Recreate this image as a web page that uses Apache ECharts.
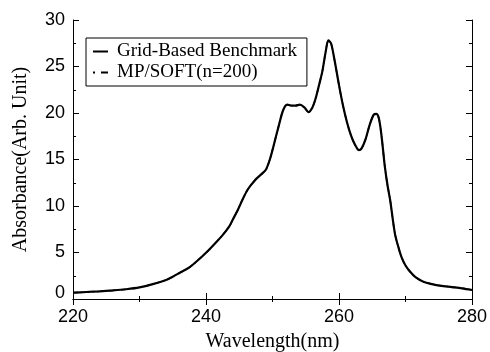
<!DOCTYPE html>
<html>
<head>
    <meta charset="utf-8">
    <title>Absorbance</title>
    <script src="https://cdn.jsdelivr.net/npm/echarts@6/dist/echarts.min.js"></script>
</head>
<body style="margin:0;background:#fff">
    <div id="main" style="width:490px;height:352px;"></div>
    <script type="text/javascript">
        // wavelength (nm) and absorbance
        var wavelength = [220, 222, 224, 226, 228, 230, 232, 234, 235, 236, 237.5, 239, 240, 241, 242.5, 243.5, 244, 244.8,
            245.5, 246.3, 247.4, 248.3, 249, 249.6, 250.1, 251, 251.6, 252.2, 252.8, 253.5, 254.1, 254.8, 255.4, 256,
            256.5, 257, 257.5, 258, 258.4, 258.8, 259.3, 260, 260.6, 261.2, 261.8, 262.4, 263, 263.4, 264, 264.6,
            265.2, 265.6, 266, 266.4, 266.9, 267.3, 267.7, 268.4, 269, 269.4, 270, 270.7, 271.5, 272.7, 274, 275.2,
            277, 278.5, 280];
        var benchmark = [0.68, 0.75, 0.82, 0.92, 1.05, 1.25, 1.6, 2.05, 2.4, 2.8, 3.4, 4.3, 4.97, 5.7, 6.87, 7.8, 8.5, 9.6,
            10.7, 11.8, 12.8, 13.4, 13.9, 15, 16.3, 18.8, 20.3, 20.9, 20.8, 20.8, 20.9, 20.6, 20.1, 20.6,
            21.6, 23, 24.5, 26.6, 27.8, 27.5, 25.8, 23, 20.8, 19.0, 17.6, 16.6, 16.0, 16.2, 17.2, 18.7,
            19.8, 19.9, 19.4, 17.5, 14.2, 12.2, 10.6, 7.06, 5.4, 4.5, 3.6, 2.93, 2.35, 1.86, 1.6, 1.43,
            1.28, 1.15, 0.97];
        var mpsoft = benchmark.slice();

        function pairs(xs, ys) {
            var out = [];
            for (var i = 0; i < xs.length; i++) out.push([xs[i], ys[i]]);
            return out;
        }

        var sans = 'Liberation Sans';
        var serif = 'Liberation Serif';
        var axisBase = {
            axisLine: { show: true, lineStyle: { color: '#000', width: 1 } },
            axisTick: { show: true, inside: true, length: 6, lineStyle: { color: '#000' } },
            minorTick: { show: true, splitNumber: 2, length: 3, lineStyle: { color: '#000' } },
            splitLine: { show: false }
        };

        var myChart = echarts.init(document.getElementById('main'));
        var option = {
            backgroundColor: '#fff',
            animation: false,
            grid: { left: 73, right: 18, top: 20, bottom: 53, containLabel: false, outerBoundsMode: 'none' },
            legend: {
                orient: 'vertical',
                left: 86,
                top: 38,
                padding: [4, 10, 4, 7],
                itemGap: 2,
                itemWidth: 15,
                itemHeight: 2,
                borderColor: '#000',
                borderWidth: 1,
                textStyle: { fontFamily: serif, fontSize: 19, lineHeight: 17, color: '#000', padding: [0, 0, 0, 4] },
                data: [
                    { name: 'Grid-Based Benchmark', icon: 'path://M0,0h15v2h-15z' },
                    { name: 'MP/SOFT(n=200)', icon: 'path://M0,0h2v2h-2z M8,0h7v2h-7z' }
                ]
            },
            xAxis: [
                Object.assign({
                    type: 'value', min: 220, max: 280, interval: 20, position: 'bottom',
                    name: 'Wavelength(nm)', nameLocation: 'middle', nameGap: 33,
                    nameTextStyle: { fontFamily: serif, fontSize: 20, color: '#000' },
                    axisLabel: { fontFamily: sans, fontSize: 18, color: '#000', margin: 9 }
                }, axisBase),
                Object.assign({
                    type: 'value', min: 220, max: 280, interval: 20, position: 'top',
                    axisLabel: { show: false }
                }, axisBase)
            ],
            yAxis: [
                Object.assign({
                    type: 'value', min: 0, max: 30, interval: 5, position: 'left',
                    name: 'Absorbance(Arb. Unit)', nameLocation: 'middle', nameGap: 42,
                    nameTextStyle: { fontFamily: serif, fontSize: 20, color: '#000' },
                    axisLabel: {
                        fontFamily: sans, fontSize: 18, color: '#000', margin: 8,
                        formatter: function (v) { return v === 0 ? '{z|0}' : String(v); },
                        rich: { z: { fontFamily: sans, fontSize: 18, color: '#000', padding: [0, 0, 12, 0] } }
                    }
                }, axisBase),
                Object.assign({
                    type: 'value', min: 0, max: 30, interval: 5, position: 'right',
                    axisLabel: { show: false }
                }, axisBase)
            ],
            series: [
                {
                    name: 'Grid-Based Benchmark', type: 'line', smooth: 0.3, symbol: 'none',
                    lineStyle: { color: '#000', width: 2.2, type: 'solid' },
                    itemStyle: { color: '#000' },
                    data: pairs(wavelength, benchmark)
                },
                {
                    name: 'MP/SOFT(n=200)', type: 'line', smooth: 0.3, symbol: 'none',
                    lineStyle: { color: '#000', width: 1.5, type: [5, 3, 1, 3] },
                    itemStyle: { color: '#000' },
                    data: pairs(wavelength, mpsoft)
                }
            ]
        };
        myChart.setOption(option);
    </script>
</body>
</html>
